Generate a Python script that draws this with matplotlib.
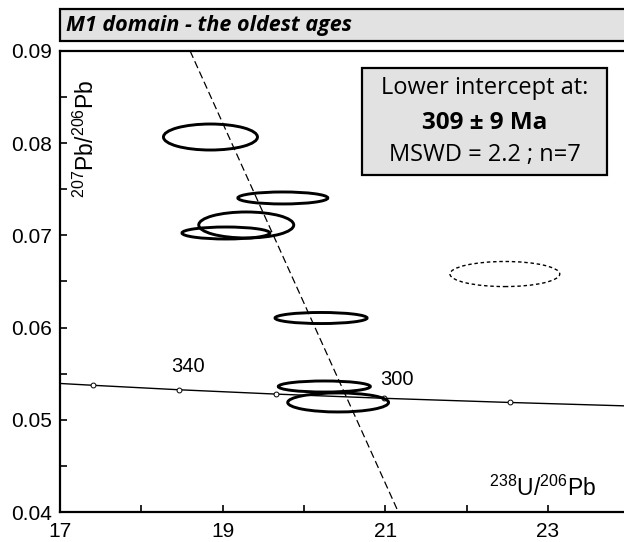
import numpy as np
import matplotlib.pyplot as plt
from matplotlib.patches import Ellipse, Rectangle
from matplotlib.ticker import MultipleLocator

plt.rcParams['font.family'] = ['Liberation Sans', 'DejaVu Sans']
plt.rcParams['mathtext.fontset'] = 'custom'
plt.rcParams['mathtext.rm'] = 'Liberation Sans'
plt.rcParams['mathtext.it'] = 'Liberation Sans:italic'
plt.rcParams['mathtext.bf'] = 'Liberation Sans:bold'

# --- donnees : analyses (centre + demi-axes des ellipses d'erreur) ---
u238_pb206 = [18.85, 19.74, 19.29, 19.04, 20.21, 20.25, 20.42]
pb207_pb206 = [0.08067, 0.07406, 0.07113, 0.07026, 0.06104, 0.05361, 0.05188]
err_u = [0.578, 0.553, 0.584, 0.540, 0.566, 0.566, 0.620]
err_pb = [0.00141, 0.00065, 0.00141, 0.00065, 0.00060, 0.00060, 0.00103]

# analyse exclue (pointillee)
excl_u = [22.47]
excl_pb = [0.06581]
excl_err_u = [0.675]
excl_err_pb = [0.00136]

# concordia (ages en Ma)
conc_age = [360, 340, 320, 300, 280]
conc_x = [17.41, 18.46, 19.65, 20.99, 22.53]
conc_y = [0.05374, 0.05326, 0.05279, 0.05233, 0.05188]
conc_line_x = [17.0, 17.41, 18.46, 19.65, 20.99, 22.53, 23.95]
conc_line_y = [0.05394, 0.05374, 0.05326, 0.05279, 0.05233, 0.05188, 0.05151]
age_labels = ["340", "300"]
age_label_x = [18.57, 21.14]
age_label_y = [0.05573, 0.05432]

# discordia
disc_x = [18.60, 21.16]
disc_y = [0.09, 0.04]

x_ticks = [17, 18, 19, 20, 21, 22, 23]
x_labels = ["17", "", "19", "", "21", "", "23"]
y_ticks = [0.04, 0.05, 0.06, 0.07, 0.08, 0.09]

fig = plt.figure(figsize=(6.24, 5.42), dpi=100)
ax = fig.add_axes([60 / 624, 30 / 542, 564 / 624, 461 / 542])

# concordia
ax.plot(conc_line_x, conc_line_y, color="black", linewidth=1.0, zorder=2)
ax.plot(conc_x, conc_y, linestyle="none", marker="o", markersize=3.5,
        markerfacecolor="white", markeredgecolor="black", markeredgewidth=0.7, zorder=3)
for lab, lx, ly in zip(age_labels, age_label_x, age_label_y):
    ax.text(lx, ly, lab, fontsize=14.5, ha="center", va="center")

# discordia
ax.plot(disc_x, disc_y, color="black", linewidth=0.9, dashes=(6, 3), zorder=2)

# ellipses
for x, y, eu, ep in zip(u238_pb206, pb207_pb206, err_u, err_pb):
    ax.add_patch(Ellipse((x, y), 2 * eu, 2 * ep, facecolor="none",
                         edgecolor="black", linewidth=2.1, zorder=4))
for x, y, eu, ep in zip(excl_u, excl_pb, excl_err_u, excl_err_pb):
    ax.add_patch(Ellipse((x, y), 2 * eu, 2 * ep, facecolor="none",
                         edgecolor="black", linewidth=1.0, linestyle=(0, (2.5, 2)), zorder=4))

ax.set_xlim(17, 23.935)
ax.set_ylim(0.04, 0.09)
ax.set_xticks(x_ticks)
ax.set_xticklabels(x_labels)
ax.set_yticks(y_ticks)
ax.set_yticklabels([f"{v:.2f}" for v in y_ticks])
ax.yaxis.set_minor_locator(MultipleLocator(0.005))
ax.tick_params(axis="both", which="both", direction="in", labelsize=15, width=1.2)
ax.tick_params(axis="both", which="major", length=5)
ax.tick_params(axis="x", which="major", pad=7.5)
ax.tick_params(axis="y", which="major", pad=6)
ax.tick_params(axis="y", which="minor", length=5)
for s in ["left", "bottom", "top"]:
    ax.spines[s].set_linewidth(1.6)
ax.spines["right"].set_visible(False)

# labels d'axes dans le cadre
ax.text(0.856, 0.052, r"$^{238}$U/$^{206}$Pb", transform=ax.transAxes,
        fontsize=16.5, ha="center", va="center")
ax.text(0.046, 0.809, r"$^{207}$Pb/$^{206}$Pb", transform=ax.transAxes,
        fontsize=16.5, ha="center", va="center", rotation=90)

# encadre resultat
ax.add_patch(Rectangle((0.5355, 0.731), 0.4344, 0.232, transform=ax.transAxes,
                       facecolor="#e2e2e2", edgecolor="black", linewidth=1.6, zorder=5))
ax.text(0.7527, 0.9197, "Lower intercept at:", transform=ax.transAxes, fontsize=17,
        family="Open Sans", ha="center", va="center", zorder=6)
ax.text(0.7527, 0.8438, "309 ± 9 Ma", transform=ax.transAxes, fontsize=17.5,
        family="Open Sans", fontweight="bold", ha="center", va="center", zorder=6)
ax.text(0.7527, 0.7744, "MSWD = 2.2 ; n=7", transform=ax.transAxes, fontsize=17,
        family="Open Sans", ha="center", va="center", zorder=6)

# bandeau titre
fig.patches.append(Rectangle((60 / 624, 1 - 41 / 542), 0.95, 32 / 542, transform=fig.transFigure,
                             facecolor="#e2e2e2", edgecolor="black", linewidth=1.6))
fig.text(66 / 624, 1 - 25 / 542, "M1 domain - the oldest ages", fontsize=15.5,
         family="Open Sans", fontweight="bold", fontstyle="italic", ha="left", va="center")

fig.savefig("out.png", dpi=100)
